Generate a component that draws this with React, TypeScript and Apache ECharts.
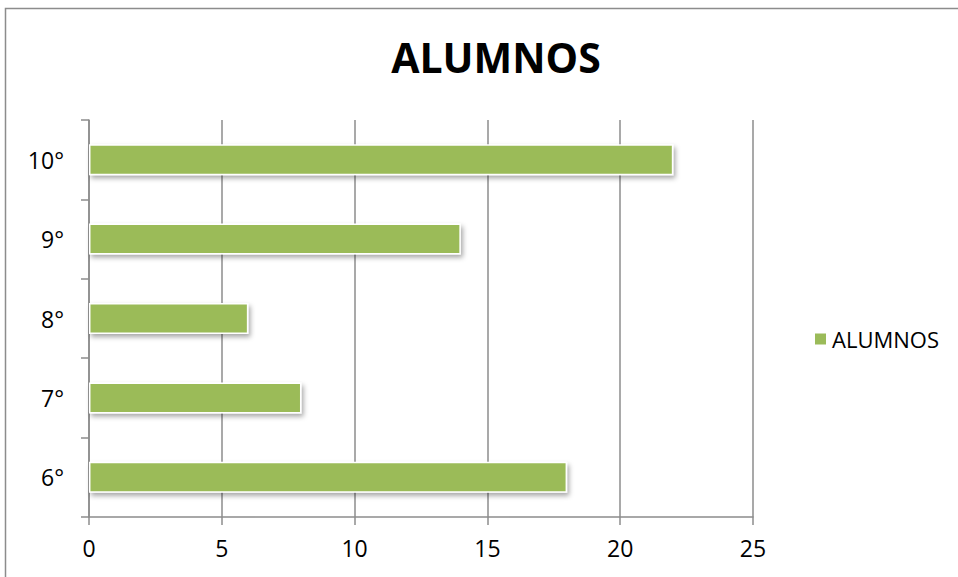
import React, { useEffect, useRef } from "react";
import * as echarts from "echarts";

const categories = ["6°", "7°", "8°", "9°", "10°"];
const alumnos = [18, 8, 6, 14, 22];
const seriesName = "ALUMNOS";
const titleText = "ALUMNOS";

const FONT = "'Open Sans', 'Noto Sans', sans-serif";

export default function App() {
  const ref = useRef<HTMLDivElement>(null);
  useEffect(() => {
    if (!ref.current) return;
    const chart = echarts.init(ref.current, null, { renderer: "svg" });
    chart.setOption({
      animation: false,
      backgroundColor: "#ffffff",
      title: {
        text: titleText,
        left: 491,
        textAlign: "center",
        top: 31,
        textStyle: { fontFamily: FONT, fontWeight: "bold", fontSize: 41, color: "#000" },
      },
      graphic: [
        {
          type: "rect",
          shape: { x: 5.5, y: 8.5, width: 1000, height: 1000 },
          style: { fill: "none", stroke: "#8c8c8c", lineWidth: 1.5 },
          silent: true,
        },
      ],
      legend: {
        left: 808,
        top: 323,
        orient: "vertical",
        icon: "rect",
        itemWidth: 13,
        itemHeight: 13,
        itemGap: 6,
        textStyle: { fontFamily: FONT, fontSize: 22, color: "#000", padding: [0, 0, 0, 0] },
        data: [seriesName],
      },
      grid: { left: 89, right: 205, top: 120, bottom: 60, containLabel: false },
      xAxis: {
        type: "value",
        min: 0,
        max: 25,
        interval: 5,
        axisLine: { show: true, lineStyle: { color: "#8c8c8c", width: 1.5 } },
        axisTick: { show: true, length: 8, lineStyle: { color: "#8c8c8c", width: 1.5 } },
        splitLine: { show: true, lineStyle: { color: "#8c8c8c", width: 1.5 } },
        axisLabel: { fontFamily: FONT, fontSize: 23, color: "#000", margin: 19 },
      },
      yAxis: {
        type: "category",
        data: categories,
        axisLine: { show: true, lineStyle: { color: "#8c8c8c", width: 1.5 } },
        axisTick: { show: true, length: 8, lineStyle: { color: "#8c8c8c", width: 1.5 } },
        axisLabel: { fontFamily: FONT, fontSize: 23, color: "#000", margin: 25 },
      },
      series: [
        {
          name: seriesName,
          type: "bar",
          data: alumnos,
          barWidth: 31,
          itemStyle: {
            color: "#9bbb59",
            borderColor: "#ffffff",
            borderWidth: 1.5,
            shadowColor: "rgba(0,0,0,0.35)",
            shadowBlur: 5,
            shadowOffsetX: 2,
            shadowOffsetY: 3,
          },
        },
      ],
    });
    return () => chart.dispose();
  }, []);
  return (
    <div
      ref={ref}
      style={{ position: "absolute", left: 0, top: 0, width: 958, height: 577 }}
    />
  );
}
